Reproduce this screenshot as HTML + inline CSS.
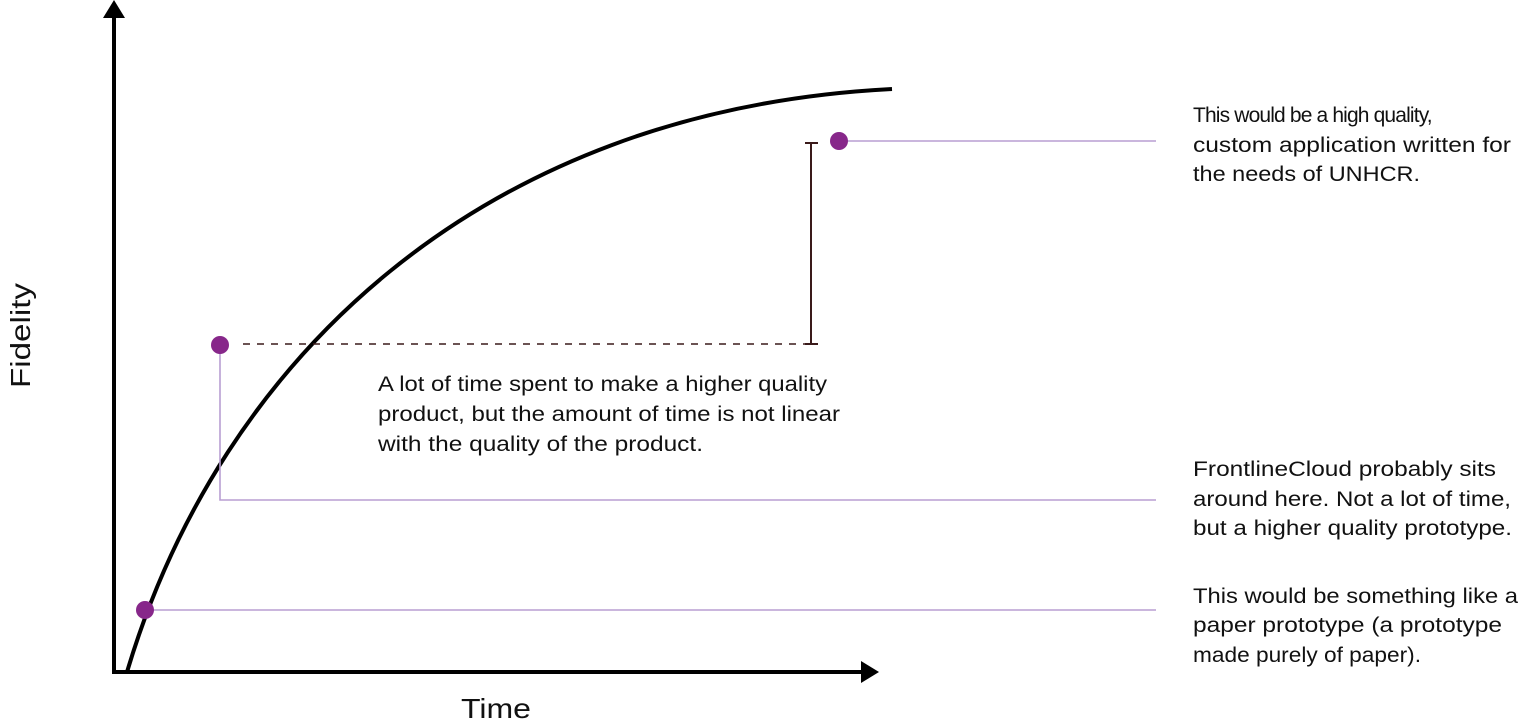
<!DOCTYPE html>
<html><head><style>body{margin:0;background:#fff}svg{display:block}</style></head>
<body>
<svg width="1523" height="727" xmlns="http://www.w3.org/2000/svg" font-family="Liberation Sans, sans-serif" fill="#111">
<line x1="114" y1="672" x2="114" y2="16" stroke="#000" stroke-width="4"/>
<polygon points="114,0 103,18 125,18" fill="#000"/>
<line x1="112" y1="672" x2="862" y2="672" stroke="#000" stroke-width="4"/>
<polygon points="879,672 861,661 861,683" fill="#000"/>
<path d="M127,672 C220,360 480,110 892,89" fill="none" stroke="#000" stroke-width="4"/>
<g stroke="#b89ed2" stroke-width="1.6" fill="none">
<line x1="840" y1="141" x2="1156" y2="141"/>
<polyline points="220,345 220,500 1156,500"/>
<line x1="145" y1="610" x2="1156" y2="610"/>
</g>
<line x1="243" y1="344" x2="805" y2="344" stroke="#3a1a1a" stroke-width="1.6" stroke-dasharray="7,7"/>
<g stroke="#3a1a1a" stroke-width="2">
<line x1="811" y1="143" x2="811" y2="344"/>
<line x1="805" y1="143" x2="818" y2="143"/>
<line x1="805" y1="344" x2="818" y2="344"/>
</g>
<g fill="#87278a">
<circle cx="839" cy="141" r="9"/><circle cx="220" cy="345" r="9"/><circle cx="145" cy="610" r="9"/>
</g>
<g font-size="21">
<text x="1193" y="122" letter-spacing="-0.85">This would be a high quality,</text>
<text x="1193" y="152" textLength="318" lengthAdjust="spacingAndGlyphs">custom application written for</text>
<text x="1193" y="181" textLength="227" lengthAdjust="spacingAndGlyphs">the needs of UNHCR.</text>
<text x="378" y="391" textLength="449" lengthAdjust="spacingAndGlyphs">A lot of time spent to make a higher quality</text>
<text x="378" y="421" textLength="462" lengthAdjust="spacingAndGlyphs">product, but the amount of time is not linear</text>
<text x="378" y="451" textLength="325" lengthAdjust="spacingAndGlyphs">with the quality of the product.</text>
<text x="1193" y="476" textLength="303" lengthAdjust="spacingAndGlyphs">FrontlineCloud probably sits</text>
<text x="1193" y="506" textLength="318" lengthAdjust="spacingAndGlyphs">around here. Not a lot of time,</text>
<text x="1193" y="535" textLength="319" lengthAdjust="spacingAndGlyphs">but a higher quality prototype.</text>
<text x="1193" y="603" textLength="325" lengthAdjust="spacingAndGlyphs">This would be something like  a</text>
<text x="1193" y="632" textLength="309" lengthAdjust="spacingAndGlyphs">paper prototype (a prototype</text>
<text x="1193" y="662" textLength="228" lengthAdjust="spacingAndGlyphs">made purely of paper).</text>
</g>
<text x="461" y="718" font-size="28" textLength="70" lengthAdjust="spacingAndGlyphs">Time</text>
<text transform="translate(30,388) rotate(-90)" font-size="28" textLength="105" lengthAdjust="spacingAndGlyphs">Fidelity</text>
</svg>
</body></html>
